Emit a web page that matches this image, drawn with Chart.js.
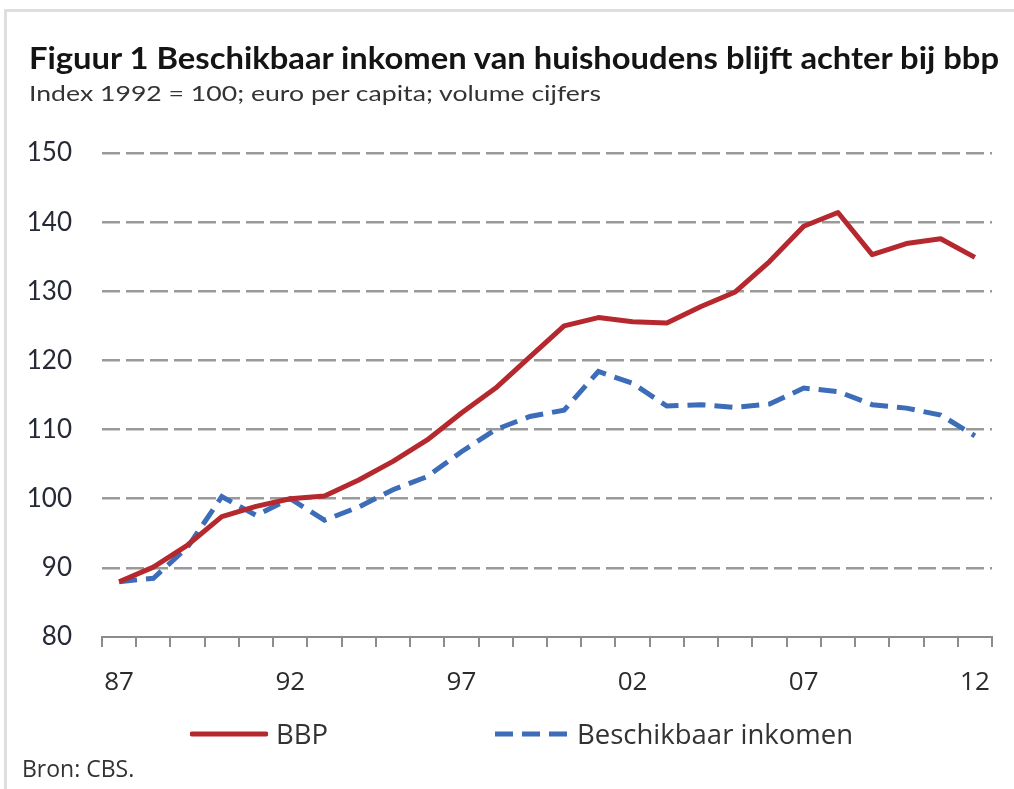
<!DOCTYPE html>
<html>
<head>
<meta charset="utf-8">
<script src="https://cdn.jsdelivr.net/npm/chart.js@4.4.1/dist/chart.umd.min.js"></script>
<style>
    body { margin: 0; width: 1014px; height: 789px; overflow: hidden; position: relative; background: #fff; }
    #frame { position: absolute; left: 4px; top: 9px; width: 1100px; height: 900px; border: 3px solid #dedede; }
    #chart { position: absolute; left: 0; top: 0; }
    .txt { position: absolute; white-space: nowrap; transform-origin: 0 0; line-height: 1; }
    #title { left: 29px; top: 42px; font-family: Lato, sans-serif; font-weight: 700; font-size: 30px; color: #141414; }
    #subtitle { left: 29px; top: 82px; font-family: Lato, sans-serif; font-size: 22px; color: #333; }
    #source { left: 22px; top: 757px; font-family: "Open Sans", sans-serif; font-size: 23px; color: #333; }
    .legend { position: absolute; top: 718px; font-family: "Open Sans", sans-serif; font-size: 27.5px; color: #333; line-height: 32px; display: flex; align-items: center; }
    .legend svg { margin-right: 8px; }
</style>
</head>
<body>
<div id="frame"></div>
<canvas id="chart" width="1014" height="789"></canvas>
<div id="title" class="txt" data-w="970">Figuur 1 Beschikbaar inkomen van huishoudens blijft achter bij bbp</div>
<div id="subtitle" class="txt" data-w="572">Index 1992 = 100; euro per capita; volume cijfers</div>
<div class="legend" style="left:190px">
    <svg width="78" height="8"><line x1="2" y1="4" x2="76" y2="4" stroke="#b5282e" stroke-width="5" stroke-linecap="round"/></svg>
    <span>BBP</span>
</div>
<div class="legend" style="left:495px">
    <svg width="74" height="8"><line x1="0" y1="4" x2="74" y2="4" stroke="#3d6cb9" stroke-width="5" stroke-dasharray="18,9"/></svg>
    <span>Beschikbaar inkomen</span>
</div>
<div id="source" class="txt">Bron: CBS.</div>

<script>
// Data
const years = ['87', '88', '89', '90', '91', '92', '93', '94', '95', '96', '97', '98', '99',
               '00', '01', '02', '03', '04', '05', '06', '07', '08', '09', '10', '11', '12'];
const labeledYears = ['87', '92', '97', '02', '07', '12'];
const bbp = [88.0, 90.1, 93.3, 97.4, 98.9, 100.0, 100.4, 102.7, 105.4, 108.5, 112.4, 116.0, 120.5,
             125.0, 126.2, 125.6, 125.4, 127.8, 129.9, 134.3, 139.4, 141.4, 135.3, 136.9, 137.6, 134.9];
const inkomen = [88.0, 88.5, 93.0, 100.3, 97.6, 100.0, 96.9, 98.8, 101.3, 103.2, 106.8, 110.0, 111.9,
                 112.8, 118.4, 116.7, 113.4, 113.6, 113.2, 113.7, 116.0, 115.5, 113.6, 113.1, 112.1, 109.1];
const yTicks = [80, 90, 100, 110, 120, 130, 140, 150];

// squeeze html text to the width it has in the original
function fitText() {
    document.querySelectorAll('[data-w]').forEach(el => {
        const w = el.getBoundingClientRect().width;
        el.style.transform = 'scaleX(' + (parseFloat(el.dataset.w) / w) + ')';
    });
}

function initChart() {
    const ctx = document.getElementById('chart');
    new Chart(ctx.getContext('2d'), {
        type: 'line',
        data: {
            labels: years,
            datasets: [{
                label: 'BBP',
                data: bbp,
                borderColor: '#b5282e',
                borderWidth: 5,
                pointRadius: 0,
                tension: 0,
                borderJoinStyle: 'round'
            }, {
                label: 'Beschikbaar inkomen',
                data: inkomen,
                borderColor: '#3d6cb9',
                borderWidth: 5,
                borderDash: [18, 9],
                pointRadius: 0,
                tension: 0
            }]
        },
        options: {
            responsive: false,
            animation: false,
            devicePixelRatio: 1,
            layout: { padding: { left: 0, right: 22, top: 153, bottom: 92 } },
            plugins: { legend: { display: false }, tooltip: { enabled: false } },
            scales: {
                x: {
                    offset: true,
                    grid: { offset: true, drawOnChartArea: false, drawTicks: true, tickLength: 10, color: '#8c8c8c', lineWidth: 2 },
                    border: { display: true, color: '#8c8c8c', width: 2 },
                    ticks: {
                        autoSkip: false,
                        maxRotation: 0,
                        padding: 20,
                        color: '#2b2b2b',
                        font: { family: 'Open Sans', size: 26 },
                        callback: (v, i) => labeledYears.includes(years[i]) ? years[i] : ''
                    },
                    afterFit: s => { s.height = 60; }
                },
                y: {
                    min: yTicks[0],
                    max: yTicks[yTicks.length - 1],
                    afterBuildTicks: s => { s.ticks = yTicks.map(v => ({ value: v })); },
                    grid: {
                        drawTicks: false,
                        lineWidth: 2.5,
                        color: c => c.tick && c.tick.value === yTicks[0] ? 'rgba(0,0,0,0)' : '#9a9a9a'
                    },
                    border: { display: false, dash: [18, 6] },
                    ticks: { padding: 30, color: '#262a36', font: { family: 'Lato', size: 26 } },
                    afterFit: s => { s.width = 102; }
                }
            }
        }
    });
}

document.addEventListener('DOMContentLoaded', () => {
    fitText();
    initChart();
});
</script>
</body>
</html>
